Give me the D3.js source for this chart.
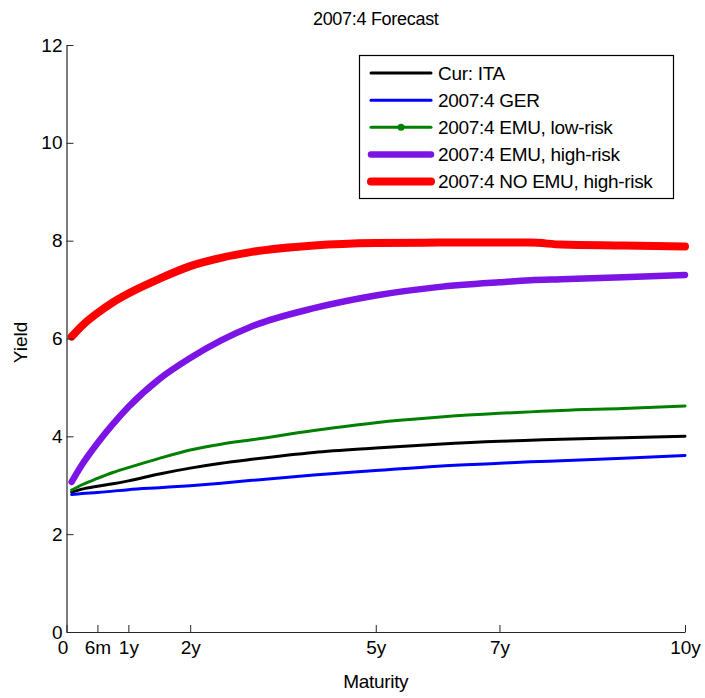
<!DOCTYPE html>
<html>
<head>
<meta charset="utf-8">
<script src="https://cdn.jsdelivr.net/npm/d3@7/dist/d3.min.js"></script>
<style>
  html, body { margin: 0; padding: 0; background: #fff; }
  svg { display: block; }
  text { font-family: Arial, "Liberation Sans", Helvetica, sans-serif; }
</style>
</head>
<body>
<svg id="chart" width="705" height="698"></svg>
<script>
// Maturities in months
const maturities = [1, 3, 6, 9, 12, 18, 24, 30, 36, 48, 60, 72, 84, 90, 96, 108, 120];

const curITA      = [2.86, 2.92, 2.98, 3.03, 3.09, 3.23, 3.35, 3.45, 3.53, 3.67, 3.76, 3.84, 3.90, 3.92, 3.94, 3.97, 4.00];
const gerForecast = [2.81, 2.83, 2.85, 2.88, 2.91, 2.95, 2.99, 3.04, 3.10, 3.21, 3.30, 3.39, 3.45, 3.48, 3.50, 3.55, 3.61];
const emuLowRisk  = [2.90, 3.01, 3.14, 3.26, 3.36, 3.55, 3.72, 3.84, 3.93, 4.12, 4.28, 4.39, 4.47, 4.50, 4.53, 4.57, 4.62];
const emuHighRisk = [3.07, 3.42, 3.86, 4.25, 4.60, 5.17, 5.60, 5.96, 6.25, 6.62, 6.88, 7.05, 7.15, 7.19, 7.21, 7.25, 7.30];
const noEmuHigh   = [6.04, 6.26, 6.52, 6.74, 6.92, 7.22, 7.48, 7.65, 7.77, 7.90, 7.95, 7.96, 7.96, 7.96, 7.92, 7.90, 7.88];

const seriesNames = ["Cur: ITA", "2007:4 GER", "2007:4 EMU, low-risk", "2007:4 EMU, high-risk", "2007:4 NO EMU, high-risk"];
const seriesValues = [curITA, gerForecast, emuLowRisk, emuHighRisk, noEmuHigh];
const seriesColors = ["#000000", "#0000ff", "#008000", "#7b14e4", "#ff0000"];
const seriesWidths = [3, 3, 3, 6.5, 8];

const xTickValues = [0, 6, 12, 24, 60, 84, 120];
const xTickLabels = ["0", "6m", "1y", "2y", "5y", "7y", "10y"];
const yTickValues = [0, 2, 4, 6, 8, 10, 12];

const titleText = "2007:4 Forecast";
const xLabelText = "Maturity";
const yLabelText = "Yield";

const svg = d3.select("#chart");
const plotLeft = 66.5, plotRight = 685, plotTop = 45, plotBottom = 632;

const x = d3.scaleLinear().domain([0, 120]).range([plotLeft, plotRight]);
const y = d3.scaleLinear().domain([0, 12]).range([plotBottom, plotTop]);

const axisColor = "#262626";
const fontSize = 19;

// Lines
const line = d3.line()
  .x(d => x(d[0]))
  .y(d => y(d[1]))
  .curve(d3.curveMonotoneX);

seriesValues.forEach((vals, i) => {
  const pts = maturities.map((m, j) => [m, vals[j]]);
  svg.append("path")
    .datum(pts)
    .attr("fill", "none")
    .attr("stroke", seriesColors[i])
    .attr("stroke-width", seriesWidths[i])
    .attr("stroke-linecap", "round")
    .attr("stroke-linejoin", "round")
    .attr("d", line);
});

// Axes
const xAxis = d3.axisBottom(x)
  .tickValues(xTickValues)
  .tickFormat((d, i) => xTickLabels[i])
  .tickSizeInner(-7)
  .tickSizeOuter(0)
  .tickPadding(9);

const gx = svg.append("g")
  .attr("transform", `translate(0,${plotBottom})`)
  .call(xAxis);

const yAxis = d3.axisLeft(y)
  .tickValues(yTickValues)
  .tickFormat(d3.format("d"))
  .tickSizeInner(-7)
  .tickSizeOuter(0)
  .tickPadding(4);

const gy = svg.append("g")
  .attr("transform", `translate(${plotLeft},0)`)
  .call(yAxis);

[gx, gy].forEach(g => {
  g.select(".domain").attr("stroke", axisColor).attr("stroke-width", 1.2);
  g.selectAll(".tick line").attr("stroke", axisColor).attr("stroke-width", 1);
  g.selectAll(".tick text")
    .attr("fill", "#000")
    .style("font-size", fontSize + "px")
    .style("font-family", "Arial, 'Liberation Sans', sans-serif");
});
gx.selectAll(".tick text").filter((d) => d === 0).attr("dx", -4);

// Title and labels
svg.append("text")
  .attr("x", (plotLeft + plotRight) / 2)
  .attr("y", 25)
  .attr("text-anchor", "middle")
  .style("font-size", "18px")
  .style("letter-spacing", "-0.3px")
  .text(titleText);

svg.append("text")
  .attr("x", (plotLeft + plotRight) / 2)
  .attr("y", 688)
  .attr("text-anchor", "middle")
  .style("font-size", fontSize + "px")
  .style("letter-spacing", "-0.3px")
  .text(xLabelText);

svg.append("text")
  .attr("transform", `translate(27,${(plotTop + plotBottom) / 2 + 4}) rotate(-90)`)
  .attr("text-anchor", "middle")
  .style("font-size", fontSize + "px")
  .text(yLabelText);

// Legend
const legend = svg.append("g");
legend.append("rect")
  .attr("x", 359.5).attr("y", 55.5)
  .attr("width", 314).attr("height", 143)
  .attr("fill", "#fff")
  .attr("stroke", "#000")
  .attr("stroke-width", 1.2);

const rowY = d3.scaleLinear().domain([0, 4]).range([73, 181.5]);
seriesNames.forEach((name, i) => {
  const yy = rowY(i);
  legend.append("line")
    .attr("x1", 371).attr("x2", 431)
    .attr("y1", yy).attr("y2", yy)
    .attr("stroke", seriesColors[i])
    .attr("stroke-width", seriesWidths[i])
    .attr("stroke-linecap", "round");
  if (i === 2) {
    legend.append("circle")
      .attr("cx", 401).attr("cy", yy).attr("r", 3.5)
      .attr("fill", seriesColors[i]);
  }
  legend.append("text")
    .attr("x", 438)
    .attr("y", yy + 6.5)
    .style("font-size", fontSize + "px")
    .style("letter-spacing", "-0.3px")
    .text(name);
});
</script>
</body>
</html>
